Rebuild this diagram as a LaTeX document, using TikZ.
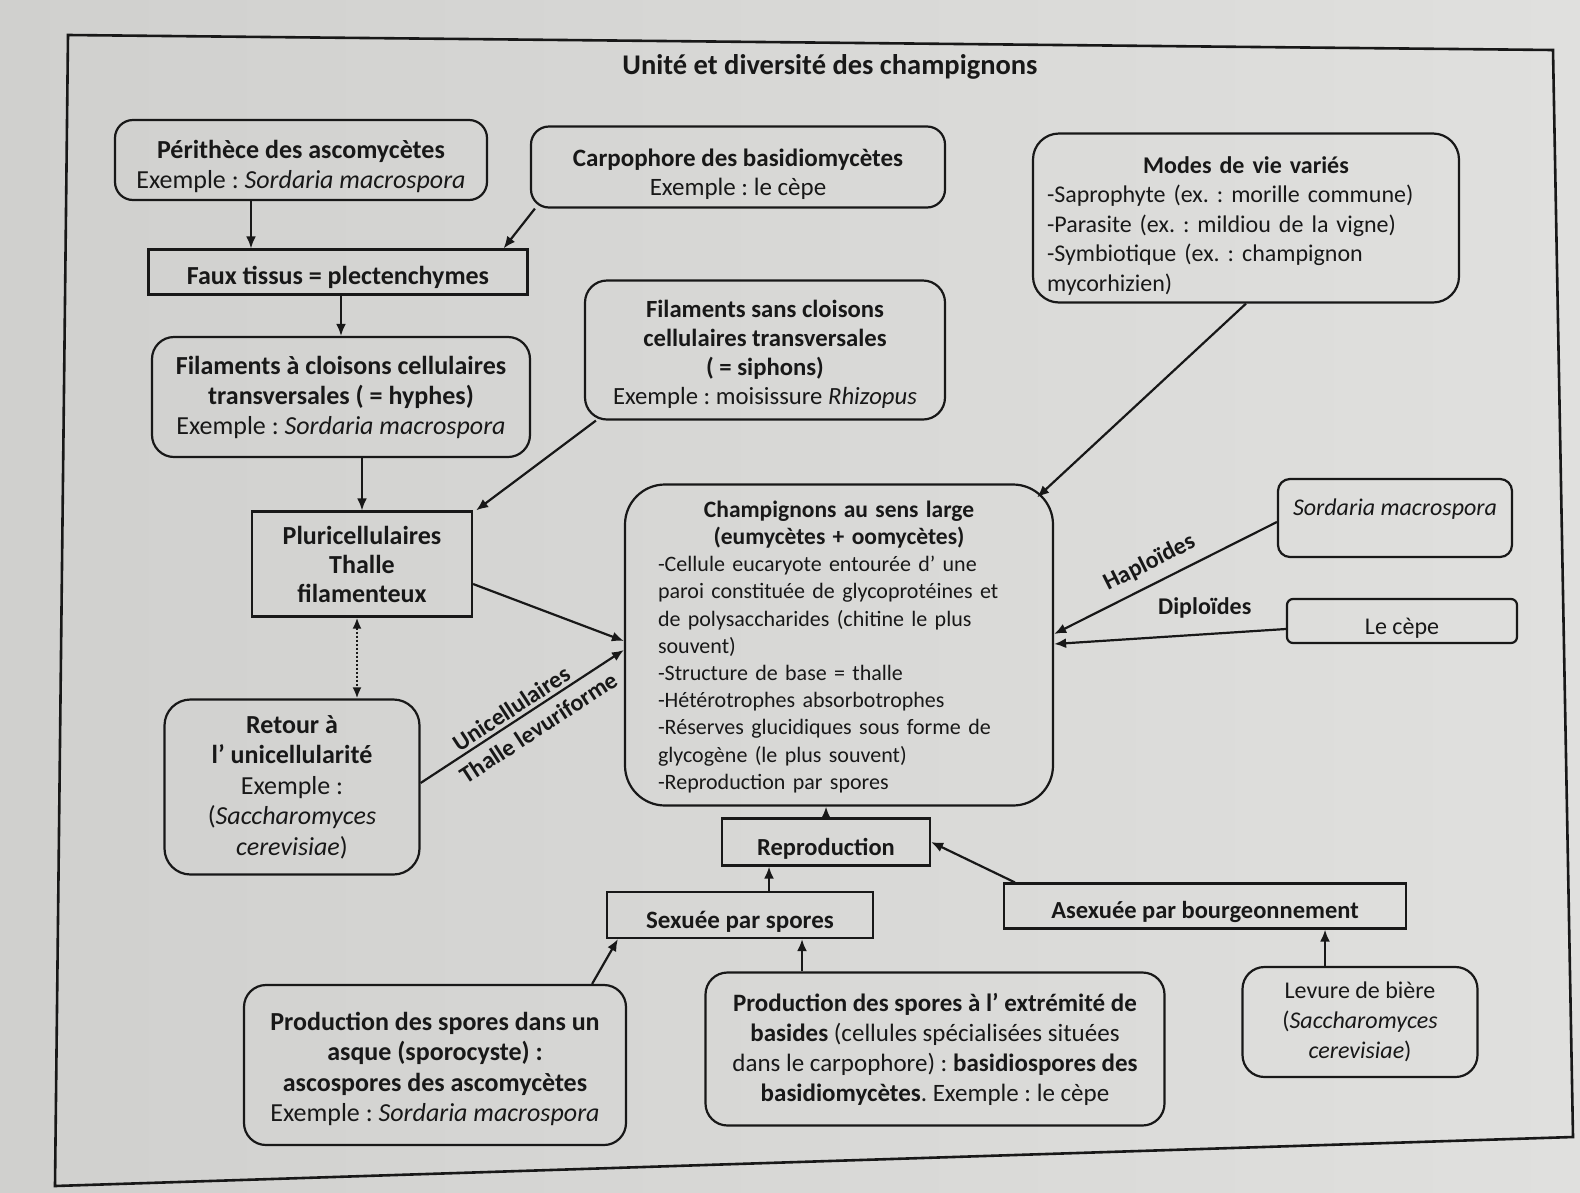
\documentclass[tikz,border=0pt]{standalone}
\usepackage{fontspec}
\setmainfont{Carlito}
\usetikzlibrary{arrows.meta}
\definecolor{papierg}{RGB}{208,208,206}
\definecolor{papierd}{RGB}{224,224,222}
\definecolor{encre}{RGB}{24,24,24}
\frenchspacing
\newcommand{\montant}[1]{\rule{0pt}{#1}}

\begin{document}
\begin{tikzpicture}[x=1pt,y=-1pt,
  every node/.style={text=encre,font=\fontsize{24.5}{29}\selectfont},
  boite/.style={draw=encre,line width=2.2pt,rounded corners=18pt,align=center,inner sep=0pt},
  cadre/.style={draw=encre,line width=2.2pt,align=center,inner sep=0pt},
  ligne/.style={text height=30pt},
  grand/.style={font=\fontsize{26}{30}\selectfont},
  fleche/.style={encre,line width=2.2pt,-{Latex[length=12pt,width=10pt]}},
  etiq/.style={font=\fontsize{24}{29}\selectfont\bfseries}]
\useasboundingbox (0,0) rectangle (1580,1192);
\shade[left color=papierg,right color=papierd] (0,0) rectangle (1580,1192);
\draw[encre,line width=2.6pt] (68,35) -- (1553,50) -- (1573,1137) -- (55,1186) -- cycle;

\node[font=\fontsize{28.5}{32}\selectfont\bfseries] (titre) at (830,67) {Unité et diversité des champignons};

% haut
\node[boite,grand,minimum width=372pt,minimum height=80pt] (perith) at (301,160)
  {\montant{31pt}\textbf{Périthèce des ascomycètes}\\Exemple : \textit{Sordaria macrospora}};
\node[boite,font=\fontsize{25}{29}\selectfont,minimum width=414pt,minimum height=81pt] (carpo) at (738,167)
  {\montant{32pt}\textbf{Carpophore des basidiomycètes}\\Exemple : le cèpe};
\node[boite,rounded corners=26pt,font=\fontsize{24}{29.5}\selectfont,minimum width=426pt,minimum height=169pt,text width=398pt,align=left,text height=32pt] (modes) at (1246,218)
  {\makebox[\linewidth]{\bfseries Modes de vie variés}\\
   -Saprophyte (ex. : morille commune)\\
   -Parasite (ex. : mildiou de la vigne)\\
   -Symbiotique (ex. : champignon\\
   mycorhizien)};
\node[cadre,grand,ligne,minimum width=379pt,minimum height=45pt] (faux) at (338,272)
  {\textbf{Faux tissus = plectenchymes}};
\node[boite,grand,rounded corners=22pt,minimum width=378pt,minimum height=120pt] (filcl) at (341,397)
  {\textbf{Filaments à cloisons cellulaires}\\\textbf{transversales ( = hyphes)}\\Exemple : \textit{Sordaria macrospora}};
\node[boite,font=\fontsize{24.7}{29.3}\selectfont,rounded corners=22pt,minimum width=360pt,minimum height=139pt] (filsans) at (765,350)
  {\montant{26pt}\textbf{Filaments sans cloisons}\\\textbf{cellulaires transversales}\\\textbf{( = siphons)}\\Exemple : moisissure \textit{Rhizopus}};

% milieu
\node[cadre,minimum width=220pt,minimum height=105pt,font=\fontsize{26}{29}\selectfont\bfseries] (pluri) at (362,564)
  {Pluricellulaires\\Thalle\\filamenteux};
\node[boite,rounded corners=40pt,minimum width=428pt,minimum height=321pt,text width=362pt,align=left,
  font=\fontsize{22}{27.2}\selectfont,text height=20pt] (champ) at (839,645)
  {\makebox[\linewidth]{\fontsize{23.5}{27.2}\selectfont\bfseries Champignons au sens large}\\
   \makebox[\linewidth]{\fontsize{23.5}{27.2}\selectfont\bfseries (eumycètes + oomycètes)}\\
   -Cellule eucaryote entourée d’ une\\
   paroi constituée de glycoprotéines et\\
   de polysaccharides (chitine le plus\\
   souvent)\\
   -Structure de base = thalle\\
   -Hétérotrophes absorbotrophes\\
   -Réserves glucidiques sous forme de\\
   glycogène (le plus souvent)\\
   -Reproduction par spores};
\node[boite,font=\fontsize{24}{29}\selectfont,rounded corners=12pt,minimum width=234pt,minimum height=78pt,text height=32pt,text depth=38pt] (sorda) at (1395,518)
  {\textit{Sordaria macrospora}};
\node[boite,ligne,font=\fontsize{24}{29}\selectfont,rounded corners=6pt,minimum width=230pt,minimum height=44pt] (cepe) at (1402,621)
  {Le cèpe};
\node[boite,font=\fontsize{26}{30.5}\selectfont,rounded corners=26pt,minimum width=255pt,minimum height=175pt] (retour) at (292,787)
  {\textbf{Retour à}\\\textbf{l’ unicellularité}\\Exemple :\\(\textit{Saccharomyces}\\\textit{cerevisiae})};

% bas
\node[cadre,ligne,minimum width=208pt,minimum height=47pt] (repro) at (826,842)
  {\textbf{Reproduction}};
\node[cadre,ligne,font=\fontsize{25}{29}\selectfont,minimum width=266pt,minimum height=46pt] (sexu) at (740,915)
  {\textbf{Sexuée par spores}};
\node[cadre,ligne,minimum width=402pt,minimum height=45pt] (asex) at (1205,906)
  {\textbf{Asexuée par bourgeonnement}};
\node[boite,font=\fontsize{26}{30.5}\selectfont,rounded corners=22pt,minimum width=382pt,minimum height=160pt] (asque) at (435,1065)
  {\montant{26pt}\textbf{Production des spores dans un}\\\textbf{asque (sporocyste) :}\\\textbf{ascospores des ascomycètes}\\Exemple : \textit{Sordaria macrospora}};
\node[boite,font=\fontsize{25}{30}\selectfont,rounded corners=22pt,minimum width=459pt,minimum height=153pt] (basid) at (935,1049)
  {\textbf{Production des spores à l’ extrémité de}\\\textbf{basides} (cellules spécialisées situées\\dans le carpophore) : \textbf{basidiospores des}\\\textbf{basidiomycètes}. Exemple : le cèpe};
\node[boite,font=\fontsize{24}{30}\selectfont,rounded corners=22pt,minimum width=235pt,minimum height=110pt] (levure) at (1360,1022)
  {Levure de bière\\(\textit{Saccharomyces}\\\textit{cerevisiae})};

% fleches
\draw[fleche] ([xshift=-50pt]perith.south) -- ([xshift=-50pt]perith.south |- faux.north);
\draw[fleche] ([xshift=5pt]carpo.south west) -- ([xshift=-25pt]faux.north east);
\draw[fleche] (filcl.north |- faux.south) -- (filcl.north);
\draw[fleche] (pluri.north |- filcl.south) -- (pluri.north);
\draw[fleche] ([xshift=12pt]filsans.south west) -- ([xshift=3pt]pluri.north east);
\draw[fleche] ([yshift=-20pt]pluri.east) -- ([yshift=4pt]champ.west);
\draw[fleche] ([yshift=4pt]retour.east) -- ([yshift=-5pt]champ.west)
  node[etiq,sloped,above=0pt,pos=0.48] {Unicellulaires}
  node[etiq,sloped,below=5pt,pos=0.53] {Thalle levuriforme};
\draw[encre,line width=2.6pt,dash pattern=on 2pt off 2pt,{Latex[length=11pt,width=9pt]}-{Latex[length=11pt,width=9pt]}]
  ([xshift=-5pt]pluri.south) -- ([xshift=-5pt]pluri.south |- retour.north);
\draw[fleche] (modes.south) -- ([xshift=-17pt,yshift=-14pt]champ.north east);
\draw[fleche] ([yshift=-4pt]sorda.west) -- ([yshift=11pt]champ.east)
  node[etiq,sloped,above=6pt,pos=0.53] {Haploïdes};
\draw[fleche] ([yshift=-8pt]cepe.west) -- ([yshift=1pt]champ.east)
  node[etiq,above=12pt,pos=0.35] {Diploïdes};
\draw[fleche] (repro.north) -- (repro.north |- champ.south);
\draw[fleche] ([xshift=-57pt]repro.south |- sexu.north) -- ([xshift=-57pt]repro.south);
\draw[fleche] ([xshift=12pt]asex.north west) -- (repro.east);
\draw[fleche] ([xshift=-35pt]asque.north east) -- ([xshift=12pt]sexu.south west);
\draw[fleche] ([xshift=62pt]sexu.south |- basid.north) -- ([xshift=62pt]sexu.south);
\draw[fleche] ([xshift=120pt]asex.south |- levure.north) -- ([xshift=120pt]asex.south);
\end{tikzpicture}
\end{document}
